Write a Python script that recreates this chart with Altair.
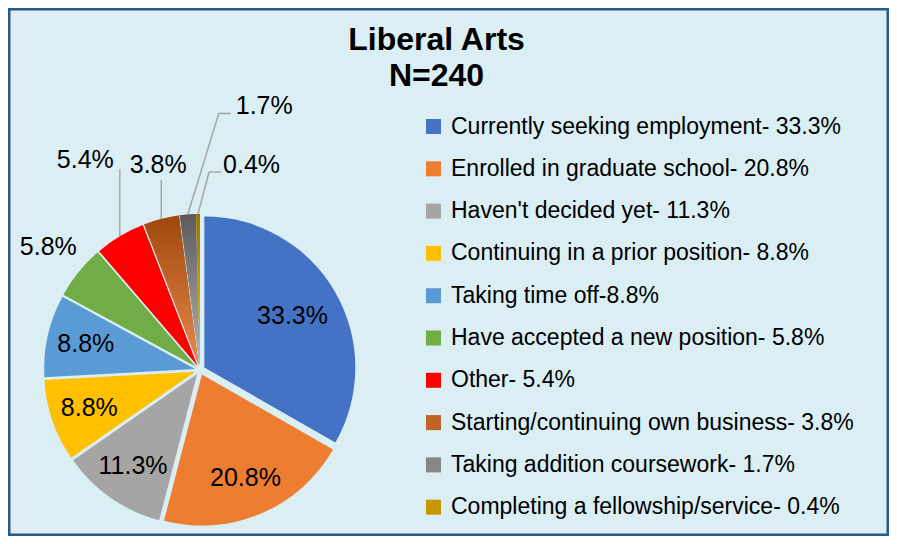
import altair as alt
import pandas as pd

# ---- data ----
legend_labels = [
    "Currently seeking employment- 33.3%",
    "Enrolled in graduate school- 20.8%",
    "Haven't decided yet- 11.3%",
    "Continuing in a prior position- 8.8%",
    "Taking time off-8.8%",
    "Have accepted a new position- 5.8%",
    "Other- 5.4%",
    "Starting/continuing own business- 3.8%",
    "Taking addition coursework- 1.7%",
    "Completing a fellowship/service- 0.4%",
]
shares = [33.3, 20.8, 11.3, 8.8, 8.8, 5.8, 5.4, 3.8, 1.7, 0.4]
slice_labels = ["33.3%", "20.8%", "11.3%", "8.8%", "8.8%", "5.8%", "5.4%", "3.8%", "1.7%", "0.4%"]
colors = ["#4472C4", "#ED7D31", "#A5A5A5", "#FFC000", "#5B9BD5", "#70AD47",
          "#FF0000", "#BE6428", "#868686", "#C89600"]

df = pd.DataFrame({"cat": legend_labels, "share": shares, "lab": slice_labels,
                   "order": list(range(len(shares)))})

# ---- layout ----
W, H = 881, 528
CX, CY = 192, 362
R = 151
EXPLODE = 5
BG = "#DAEEF3"
FONT = "Liberation Sans"
LINE = "#A6A6A6"
LABEL_SIZE = 25

GRADIENTS = {
    7: ("#9E480E", "#E8894A"),
    8: ("#5A5A5A", "#B4B4B4"),
    9: ("#997300", "#FFC000"),
}
# leader: elbow offsets from the slice edge point, label offset and alignment
LEADERS = {
    6: dict(path=[(0, -67)], label=(-6, -76), align="right"),
    7: dict(path=[(0, -39)], label=(-3, -54), align="center"),
    8: dict(path=[(31, -101), (43, -101)], label=(48, -108), align="left"),
    9: dict(path=[(11, -42), (23, -42)], label=(25, -49), align="left"),
}

base = alt.Chart(df).transform_window(
    cum="sum(share)", sort=[alt.SortField("order")], frame=[None, 0]
).transform_joinaggregate(
    total="sum(share)"
).transform_calculate(
    a0="2*PI*(datum.cum - datum.share)/datum.total",
    a1="2*PI*datum.cum/datum.total",
    ang="2*PI*(datum.cum - datum.share/2)/datum.total",
).transform_calculate(
    ox=f"{CX} + {EXPLODE}*sin(datum.ang)",
    oy=f"{CY} - {EXPLODE}*cos(datum.ang)",
    sx=f"{CX} + {R + EXPLODE}*sin(datum.ang)",
    sy=f"{CY} - {R + EXPLODE}*cos(datum.ang)",
)

arc_enc = dict(
    theta=alt.Theta("a0:Q", scale=None),
    theta2="a1:Q",
    x=alt.X("ox:Q", scale=None),
    y=alt.Y("oy:Q", scale=None),
)

pie = base.mark_arc(outerRadius=R, innerRadius=0).encode(
    color=alt.Color(
        "cat:N",
        scale=alt.Scale(domain=legend_labels, range=colors),
        legend=alt.Legend(
            title=None, orient="none", legendX=414, legendY=107,
            direction="vertical", symbolType="square", symbolSize=225,
            symbolStrokeWidth=0, labelFont=FONT, labelFontSize=23,
            labelColor="black", labelOffset=6, labelLimit=0,
            rowPadding=18.3, padding=0,
        ),
    ),
    order=alt.Order("order:Q"),
    **arc_enc,
)

layers = [pie]
for k, (c_top, c_bot) in GRADIENTS.items():
    grad = {"gradient": "linear", "x1": 0, "y1": 0, "x2": 0, "y2": 1,
            "stops": [{"offset": 0, "color": c_top}, {"offset": 1, "color": c_bot}]}
    layers.append(
        base.transform_filter(f"datum.order == {k}")
        .mark_arc(outerRadius=R, innerRadius=0, fill=grad)
        .encode(**arc_enc)
    )

inner = base.transform_filter("datum.order <= 4").transform_calculate(
    r="datum.order == 0 ? 107 : 117"
).transform_calculate(
    tx=f"{CX} + datum.r*sin(datum.ang)",
    ty=f"{CY} - datum.r*cos(datum.ang)",
).mark_text(font=FONT, fontSize=LABEL_SIZE, color="black", align="center", baseline="middle").encode(
    x=alt.X("tx:Q", scale=None), y=alt.Y("ty:Q", scale=None), text="lab:N"
)
layers.append(inner)

outer = base.transform_filter("datum.order == 5").transform_calculate(
    tx=f"{CX} + 195*sin(datum.ang)",
    ty=f"{CY} - 195*cos(datum.ang)",
).mark_text(font=FONT, fontSize=LABEL_SIZE, color="black", align="center", baseline="middle").encode(
    x=alt.X("tx:Q", scale=None), y=alt.Y("ty:Q", scale=None), text="lab:N"
)
layers.append(outer)

for k, spec in LEADERS.items():
    pts = [(0, 0)] + spec["path"]
    for i in range(len(pts) - 1):
        (ax, ay), (bx, by) = pts[i], pts[i + 1]
        layers.append(
            base.transform_filter(f"datum.order == {k}").transform_calculate(
                x1=f"datum.sx + {ax}", y1=f"datum.sy + {ay}",
                x2=f"datum.sx + {bx}", y2=f"datum.sy + {by}",
            ).mark_rule(color=LINE, strokeWidth=1.5).encode(
                x=alt.X("x1:Q", scale=None), y=alt.Y("y1:Q", scale=None),
                x2="x2:Q", y2="y2:Q",
            )
        )
    lx, ly = spec["label"]
    layers.append(
        base.transform_filter(f"datum.order == {k}").transform_calculate(
            tx=f"datum.sx + {lx}", ty=f"datum.sy + {ly}",
        ).mark_text(font=FONT, fontSize=LABEL_SIZE, color="black", align=spec["align"],
                    baseline="middle").encode(
            x=alt.X("tx:Q", scale=None), y=alt.Y("ty:Q", scale=None), text="lab:N"
        )
    )

chart = alt.layer(*layers).properties(
    width=W, height=H,
    title=alt.Title(
        text=["Liberal Arts", "N=240"], font="Liberation Sans", fontSize=32,
        fontWeight="bold", color="black", anchor="middle", frame="group",
        dx=-12, dy=67, offset=-43, baseline="alphabetic", lineHeight=36,
    ),
    autosize=alt.AutoSizeParams(type="none"),
    padding=0,
).configure(
    background=BG,
).configure_view(
    fill=BG, stroke="#2B5A86", strokeWidth=5,
)

chart.save("out.html", embed_options={"renderer": "svg", "actions": False})
